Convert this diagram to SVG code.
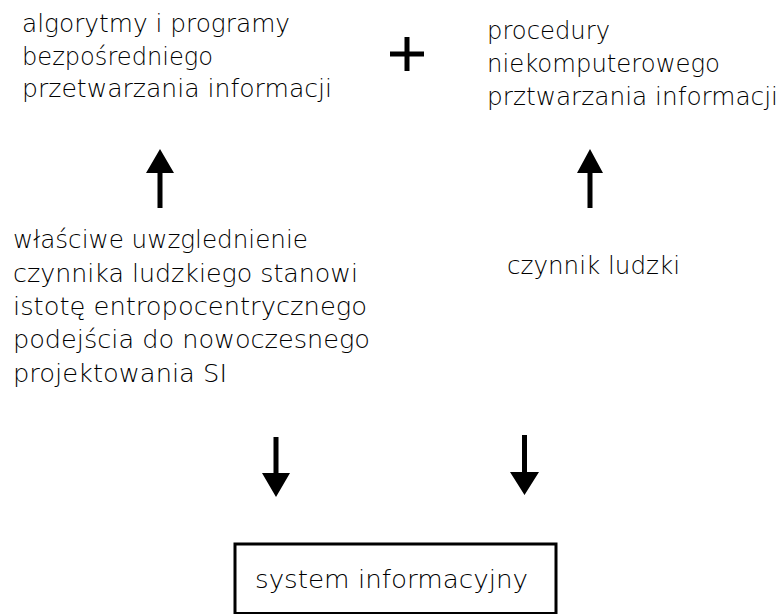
<svg xmlns="http://www.w3.org/2000/svg" width="783" height="614" viewBox="0 0 783 614">
<style>
text{font-family:"DejaVu Sans","Liberation Sans",sans-serif;font-size:25px;font-weight:200;fill:#000;}
.arrow{fill:#000;stroke:none;}
.box{fill:#fff;stroke:#000;stroke-width:3;}
</style>
<rect width="783" height="614" fill="#fff"/>
<g id="node-algorytmy">
<text x="22" y="32" textLength="268" lengthAdjust="spacingAndGlyphs">algorytmy i programy</text>
<text x="22" y="65" textLength="191" lengthAdjust="spacingAndGlyphs">bezpośredniego</text>
<text x="22" y="97" textLength="310" lengthAdjust="spacingAndGlyphs">przetwarzania informacji</text>
</g>
<g id="node-plus">
<path d="M390 54H424M407 37V71" stroke="#000" stroke-width="5" fill="none"/>
</g>
<g id="node-procedury">
<text x="487" y="39" textLength="123" lengthAdjust="spacingAndGlyphs">procedury</text>
<text x="487" y="72" textLength="233" lengthAdjust="spacingAndGlyphs">niekomputerowego</text>
<text x="487" y="105" textLength="291" lengthAdjust="spacingAndGlyphs">prztwarzania informacji</text>
</g>
<g id="node-czynnik-opis">
<text x="13" y="248" textLength="295" lengthAdjust="spacingAndGlyphs">właściwe uwzglednienie</text>
<text x="13" y="282" textLength="345" lengthAdjust="spacingAndGlyphs">czynnika ludzkiego stanowi</text>
<text x="13" y="315" textLength="354" lengthAdjust="spacingAndGlyphs">istotę entropocentrycznego</text>
<text x="13" y="348" textLength="357" lengthAdjust="spacingAndGlyphs">podejścia do nowoczesnego</text>
<text x="13" y="382" textLength="214" lengthAdjust="spacingAndGlyphs">projektowania SI</text>
</g>
<g id="node-czynnik">
<text x="507" y="274" textLength="173" lengthAdjust="spacingAndGlyphs">czynnik ludzki</text>
</g>
<g id="node-system">
<rect class="box" x="235" y="544" width="321" height="69.5"/>
<text x="255" y="588" textLength="273" lengthAdjust="spacingAndGlyphs">system informacyjny</text>
</g>
<g id="connectors">
<path class="arrow" d="M160 149L174 173H162.5V208H157.5V173H146Z"/>
<path class="arrow" d="M590 149L603 173H592.5V208H587.5V173H577Z"/>
<path class="arrow" d="M273.5 437H278.5V473H290L276 497L262 473H273.5Z"/>
<path class="arrow" d="M522 435H527V472H539L524.5 495L510 472H522Z"/>
</g>
</svg>
